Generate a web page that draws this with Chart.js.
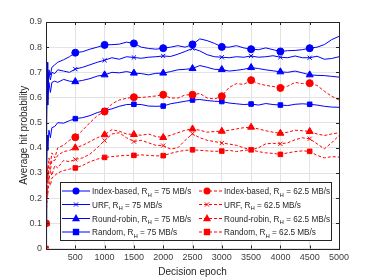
<!DOCTYPE html>
<html>
<head>
<meta charset="utf-8">
<script src="https://cdn.jsdelivr.net/npm/chart.js@4"></script>
<style>
  html, body { margin: 0; padding: 0; background: #fff; }
  #wrap { width: 374px; height: 280px; }
</style>
</head>
<body>
<div id="wrap"><canvas id="myChart" width="374" height="280"></canvas></div>
<script>
const epochs = [1, 10, 20, 30, 50, 75, 100, 150, 200, 300, 400,
    500, 625, 750, 875, 1000, 1125, 1250, 1375, 1500, 1625, 1750, 1875, 2000,
    2125, 2250, 2375, 2500, 2625, 2750, 2875, 3000, 3125, 3250, 3375, 3500,
    3625, 3750, 3875, 4000, 4125, 4250, 4375, 4500, 4625, 4750, 4875, 5000]

// R_H = 75 MB/s
const indexFast = [0.1, 0.6, 0.74, 0.64, 0.71, 0.69, 0.72, 0.73, 0.74, 0.75, 0.762,
    0.778, 0.782, 0.792, 0.80, 0.809, 0.81, 0.812, 0.82, 0.815, 0.80, 0.795, 0.792, 0.796,
    0.80, 0.806, 0.80, 0.811, 0.833, 0.826, 0.815, 0.801, 0.80, 0.806, 0.797, 0.792,
    0.79, 0.797, 0.79, 0.783, 0.786, 0.787, 0.79, 0.796, 0.80, 0.81, 0.83, 0.843]
const urfFast = [0.1, 0.55, 0.69, 0.62, 0.70, 0.67, 0.70, 0.695, 0.71, 0.705, 0.70,
    0.713, 0.72, 0.73, 0.74, 0.748, 0.758, 0.752, 0.762, 0.759, 0.756, 0.76, 0.762, 0.765,
    0.763, 0.772, 0.783, 0.795, 0.785, 0.77, 0.762, 0.76, 0.758, 0.762, 0.76, 0.765,
    0.76, 0.762, 0.766, 0.76, 0.758, 0.765, 0.758, 0.758, 0.764, 0.752, 0.755, 0.762]
const rrFast = [0.1, 0.5, 0.64, 0.57, 0.66, 0.62, 0.66, 0.665, 0.66, 0.672, 0.665,
    0.663, 0.668, 0.675, 0.685, 0.690, 0.70, 0.698, 0.703, 0.697, 0.695, 0.69, 0.696, 0.697,
    0.703, 0.71, 0.712, 0.715, 0.727, 0.72, 0.712, 0.711, 0.705, 0.708, 0.712, 0.719,
    0.715, 0.71, 0.706, 0.702, 0.70, 0.705, 0.698, 0.690, 0.688, 0.687, 0.684, 0.681]
const randomFast = [0, 0.3, 0.45, 0.39, 0.47, 0.44, 0.48, 0.485, 0.50, 0.498, 0.508,
    0.516, 0.52, 0.528, 0.54, 0.548, 0.555, 0.565, 0.572, 0.573, 0.572, 0.566, 0.565, 0.566,
    0.575, 0.58, 0.585, 0.590, 0.592, 0.588, 0.585, 0.584, 0.578, 0.575, 0.572, 0.574,
    0.57, 0.576, 0.572, 0.570, 0.568, 0.573, 0.575, 0.573, 0.57, 0.565, 0.562, 0.561]

// R_H = 62.5 MB/s
const indexSlow = [0.1, 0.2, 0.33, 0.29, 0.36, 0.33, 0.38, 0.36, 0.40, 0.41, 0.43,
    0.442, 0.47, 0.50, 0.528, 0.544, 0.575, 0.59, 0.597, 0.601, 0.60, 0.603, 0.606, 0.611,
    0.598, 0.598, 0.61, 0.611, 0.616, 0.598, 0.594, 0.605, 0.64, 0.655, 0.652, 0.669,
    0.655, 0.648, 0.644, 0.638, 0.645, 0.66, 0.655, 0.657, 0.648, 0.625, 0.605, 0.59]
const urfSlow = [0.1, 0.17, 0.26, 0.3, 0.27, 0.31, 0.29, 0.33, 0.32, 0.35, 0.345,
    0.354, 0.36, 0.375, 0.40, 0.429, 0.455, 0.46, 0.44, 0.425, 0.43, 0.42, 0.41, 0.409,
    0.395, 0.40, 0.43, 0.456, 0.44, 0.43, 0.425, 0.419, 0.415, 0.41, 0.40, 0.392,
    0.40, 0.416, 0.418, 0.416, 0.42, 0.432, 0.44, 0.436, 0.416, 0.396, 0.42, 0.449]
const rrSlow = [0.1, 0.18, 0.3, 0.27, 0.33, 0.31, 0.35, 0.35, 0.37, 0.385, 0.39,
    0.400, 0.41, 0.425, 0.44, 0.452, 0.472, 0.466, 0.455, 0.453, 0.45, 0.455, 0.445, 0.441,
    0.45, 0.46, 0.47, 0.475, 0.47, 0.462, 0.465, 0.466, 0.47, 0.475, 0.48, 0.482,
    0.475, 0.468, 0.462, 0.458, 0.462, 0.47, 0.468, 0.465, 0.455, 0.449, 0.455, 0.46]
const randomSlow = [0, 0.15, 0.24, 0.21, 0.27, 0.25, 0.28, 0.29, 0.30, 0.31, 0.315,
    0.320, 0.33, 0.345, 0.355, 0.362, 0.365, 0.368, 0.37, 0.370, 0.372, 0.37, 0.368, 0.369,
    0.378, 0.385, 0.39, 0.392, 0.39, 0.388, 0.386, 0.387, 0.39, 0.385, 0.39, 0.392,
    0.385, 0.38, 0.378, 0.374, 0.38, 0.385, 0.388, 0.386, 0.37, 0.36, 0.365, 0.363]

const schemes = ['Index-based', 'URF', 'Round-robin', 'Random']
const rates = ['75 MB/s', '62.5 MB/s']
const xTicks = [0, 500, 1000, 1500, 2000, 2500, 3000, 3500, 4000, 4500, 5000]

const BLUE = '#0000ff'
const RED = '#ff0000'
const FONT = '"Liberation Sans", Arial, Helvetica, sans-serif'
const styles = ['circle', 'crossRot', 'triangle', 'rect']
const sizes = [3.5, 3, 4, 3.2]

function toPoints(values) {
    return values.map((v, i) => ({ x: epochs[i], y: v }))
}

function makeSet(values, k, slow) {
    const color = slow ? RED : BLUE
    return {
        label: schemes[k] + ', RH = ' + rates[slow ? 1 : 0],
        data: toPoints(values),
        borderColor: color,
        backgroundColor: color,
        borderWidth: 1,
        borderDash: slow ? [3, 2] : [],
        pointStyle: styles[k],
        pointBorderWidth: 1,
        pointRadius: ctx => {
            const x = epochs[ctx.dataIndex]
            if ((x % 500 === 0 && x < 5000) || (slow && ctx.dataIndex === 0)) return sizes[k]
            return 0
        },
        pointHoverRadius: 0,
        tension: 0,
        order: slow ? 0 : 1
    }
}

const datasets = [
    makeSet(indexFast, 0, false),
    makeSet(urfFast, 1, false),
    makeSet(rrFast, 2, false),
    makeSet(randomFast, 3, false),
    makeSet(indexSlow, 0, true),
    makeSet(urfSlow, 1, true),
    makeSet(rrSlow, 2, true),
    makeSet(randomSlow, 3, true)
]

function drawMarker(ctx, style, r, x, y, color) {
    ctx.save()
    ctx.fillStyle = color
    ctx.strokeStyle = color
    ctx.lineWidth = 1
    ctx.setLineDash([])
    ctx.beginPath()
    if (style === 'circle') {
        ctx.arc(x, y, r, 0, Math.PI * 2)
        ctx.fill()
    } else if (style === 'rect') {
        ctx.fillRect(x - r, y - r, r * 2, r * 2)
    } else if (style === 'triangle') {
        ctx.moveTo(x, y - r * 1.1)
        ctx.lineTo(x + r, y + r * 0.7)
        ctx.lineTo(x - r, y + r * 0.7)
        ctx.closePath()
        ctx.fill()
    } else {
        ctx.moveTo(x - r * 0.7, y - r * 0.7)
        ctx.lineTo(x + r * 0.7, y + r * 0.7)
        ctx.moveTo(x + r * 0.7, y - r * 0.7)
        ctx.lineTo(x - r * 0.7, y + r * 0.7)
        ctx.stroke()
    }
    ctx.restore()
}

// frame + inward ticks like the original figure
const framePlugin = {
    id: 'frame',
    afterDatasetsDraw(chart) {
        const { ctx, chartArea: a, scales } = chart
        ctx.save()
        ctx.strokeStyle = '#262626'
        ctx.lineWidth = 1
        ctx.strokeRect(Math.round(a.left) + 0.5, Math.round(a.top) + 0.5,
            Math.round(a.right - a.left), Math.round(a.bottom - a.top))
        ctx.beginPath()
        xTicks.forEach(t => {
            const px = Math.round(scales.x.getPixelForValue(t)) + 0.5
            ctx.moveTo(px, a.bottom); ctx.lineTo(px, a.bottom - 3)
            ctx.moveTo(px, a.top); ctx.lineTo(px, a.top + 3)
        })
        for (let v = 0; v <= 9; v++) {
            const py = Math.round(scales.y.getPixelForValue(v / 10)) + 0.5
            ctx.moveTo(a.left, py); ctx.lineTo(a.left + 3, py)
            ctx.moveTo(a.right, py); ctx.lineTo(a.right - 3, py)
        }
        ctx.stroke()
        ctx.restore()
    }
}

// legend with subscript H
const legendPlugin = {
    id: 'subLegend',
    afterDraw(chart) {
        const ctx = chart.ctx
        const box = { x: 60.5, y: 182.5, w: 271, h: 58 }
        const rows = [190.5, 204, 218, 231.5]
        const cols = [{ x0: 62, xm: 76, x1: 90, tx: 92 }, { x0: 199, xm: 207, x1: 222, tx: 224 }]
        ctx.save()
        ctx.fillStyle = '#fff'
        ctx.fillRect(box.x, box.y, box.w, box.h)
        ctx.strokeStyle = '#262626'
        ctx.lineWidth = 1
        ctx.strokeRect(box.x, box.y, box.w, box.h)
        cols.forEach((c, ci) => {
            const color = ci ? RED : BLUE
            rows.forEach((y, k) => {
                ctx.save()
                ctx.strokeStyle = color
                ctx.lineWidth = 1
                ctx.setLineDash(ci ? [3, 2] : [])
                ctx.beginPath()
                ctx.moveTo(c.x0, y + 0.5)
                ctx.lineTo(c.x1, y + 0.5)
                ctx.stroke()
                ctx.restore()
                drawMarker(ctx, styles[k], sizes[k], c.xm, y + 0.5, color)
                ctx.fillStyle = '#262626'
                ctx.textBaseline = 'alphabetic'
                ctx.font = '8.2px ' + FONT
                const base = y + 3.5
                let tx = c.tx
                const head = schemes[k] + ', R'
                ctx.fillText(head, tx, base)
                tx += ctx.measureText(head).width
                ctx.font = '6px ' + FONT
                ctx.fillText('H', tx, base + 2.5)
                tx += ctx.measureText('H').width
                ctx.font = '8.2px ' + FONT
                ctx.fillText(' = ' + rates[ci], tx, base)
            })
        })
        ctx.restore()
    }
}

const config = {
    type: 'line',
    data: { datasets: datasets },
    options: {
        responsive: false,
        animation: false,
        events: [],
        layout: { padding: { left: 0, right: 35, top: 22, bottom: 0 } },
        plugins: {
            legend: { display: false },
            tooltip: { enabled: false }
        },
        scales: {
            x: {
                type: 'linear',
                min: 0,
                max: 5000,
                afterFit: s => { s.height = 31.5 },
                afterBuildTicks: s => { s.ticks = xTicks.map(v => ({ value: v })) },
                grid: { color: '#e3e3e3', drawTicks: false },
                border: { display: false },
                ticks: {
                    padding: 4,
                    color: '#404040',
                    font: { family: FONT, size: 9 },
                    maxRotation: 0,
                    callback: v => v === 0 ? '' : String(v)
                },
                title: {
                    display: true,
                    text: 'Decision epoch',
                    color: '#262626',
                    font: { family: FONT, size: 10 },
                    padding: { top: 0, bottom: 2 }
                }
            },
            y: {
                min: 0,
                max: 0.9,
                afterFit: s => { s.width = 46 },
                grid: { color: '#e3e3e3', drawTicks: false },
                border: { display: false },
                ticks: {
                    stepSize: 0.1,
                    padding: 4,
                    color: '#404040',
                    font: { family: FONT, size: 9 },
                    callback: v => String(Math.round(v * 10) / 10)
                },
                title: {
                    display: true,
                    text: 'Average hit probability',
                    color: '#262626',
                    font: { family: FONT, size: 10 },
                    padding: { top: 18, bottom: 0 }
                }
            }
        }
    },
    plugins: [framePlugin, legendPlugin]
}

const myChart = new Chart(document.getElementById('myChart'), config)
</script>
</body>
</html>
